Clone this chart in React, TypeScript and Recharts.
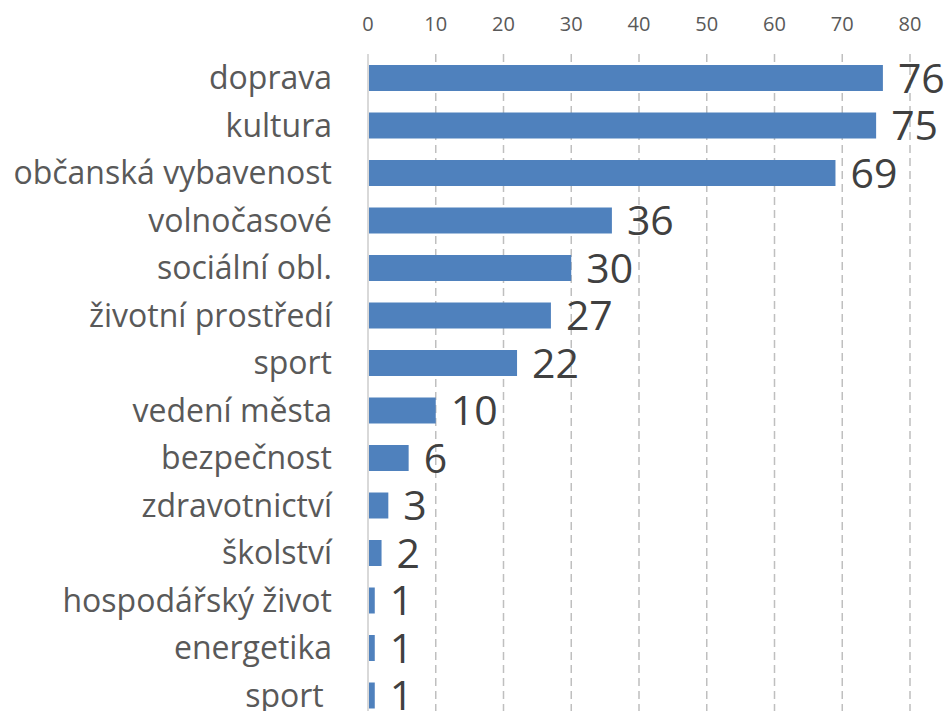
import React from "react";
import { BarChart, Bar, XAxis, YAxis, CartesianGrid, LabelList } from "recharts";

const categories = [
  "doprava",
  "kultura",
  "občanská vybavenost",
  "volnočasové",
  "sociální obl.",
  "životní prostředí",
  "sport",
  "vedení města",
  "bezpečnost",
  "zdravotnictví",
  "školství",
  "hospodářský život",
  "energetika",
  "sport\u00a0",
];

const values = [76, 75, 69, 36, 30, 27, 22, 10, 6, 3, 2, 1, 1, 1];

const xTicks = [0, 10, 20, 30, 40, 50, 60, 70, 80];

const data = categories.map((name, i) => ({ name, value: values[i] }));

const FONT = "'Open Sans', 'Noto Sans', sans-serif";

export default function App() {
  return (
    <div
      style={{
        position: "fixed",
        left: 0,
        top: 0,
        width: 945,
        height: 711,
        overflow: "hidden",
        background: "#ffffff",
      }}
    >
      <BarChart
        width={945}
        height={720}
        data={data}
        layout="vertical"
        margin={{ top: 0, right: 35, bottom: 1, left: 0 }}
        barSize={26}
      >
        <CartesianGrid
          horizontal={false}
          vertical={true}
          stroke="#bfbfbf"
          strokeWidth={1.5}
          strokeDasharray="8 5"
        />
        <XAxis
          type="number"
          orientation="top"
          domain={[0, 80]}
          ticks={xTicks}
          height={54}
          axisLine={false}
          tickLine={false}
          tickSize={6}
          tickMargin={17}
          interval={0}
          tick={{ fill: "#595959", fontSize: 20, fontFamily: FONT }}
        />
        <YAxis
          type="category"
          dataKey="name"
          width={368}
          axisLine={{ stroke: "#d9d9d9", strokeWidth: 2 }}
          tickLine={false}
          tickSize={6}
          tickMargin={30}
          interval={0}
          tick={{ fill: "#595959", fontSize: 32, fontFamily: FONT }}
        />
        <Bar dataKey="value" fill="#4f81bd" isAnimationActive={false}>
          <LabelList
            dataKey="value"
            position="right"
            offset={15}
            fill="#404040"
            fontSize={41}
            fontFamily={FONT}
          />
        </Bar>
      </BarChart>
    </div>
  );
}
